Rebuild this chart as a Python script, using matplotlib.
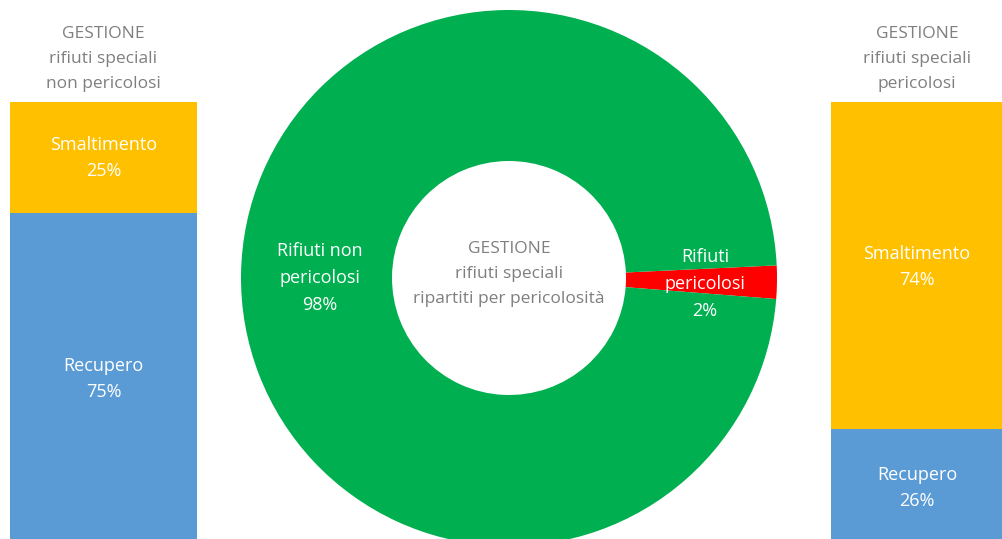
import matplotlib
matplotlib.use("Agg")
import matplotlib.pyplot as plt

plt.rcParams['font.family'] = ['Open Sans', 'DejaVu Sans']

# Data
bar_categories = ["Smaltimento", "Recupero"]
left_values = [25, 75]    # rifiuti speciali non pericolosi
right_values = [74, 26]   # rifiuti speciali pericolosi
donut_labels = ["Rifiuti\npericolosi", "Rifiuti non\npericolosi"]
donut_values = [2, 98]

left_title = "GESTIONE\nrifiuti speciali\nnon pericolosi"
right_title = "GESTIONE\nrifiuti speciali\npericolosi"
center_title = "GESTIONE\nrifiuti speciali\nripartiti per pericolosità"

ORANGE = "#FFC000"
BLUE = "#5B9BD5"
GREEN = "#00B050"
RED = "#FF0000"
GRAY = "#7F7F7F"

W, H = 1003, 539
fig = plt.figure(figsize=(W / 100, H / 100), dpi=100)
ax = fig.add_axes([0, 0, 1, 1])

# Donut
cx, cy, R, r_in = 509, 278, 268, 117
ax.pie(donut_values, colors=[RED, GREEN], startangle=-2.7, counterclock=True,
       center=(cx, cy), radius=R,
       wedgeprops=dict(width=R - r_in, edgecolor='none', linewidth=0))

# Stacked bars (drawn downward from the top edge)
scale = 4.42
top = 102
bar_colors = [ORANGE, BLUE]

def stacked(xc, width, values, label_centers):
    bottom = top
    for cat, v, c, ly in zip(bar_categories, values, bar_colors, label_centers):
        ax.bar(xc, v * scale, width=width, bottom=bottom, color=c, linewidth=0)
        ax.text(xc, ly, f"{cat}\n{v}%", ha='center', va='center', color='white',
                fontsize=13, linespacing=1.62)
        bottom += v * scale

stacked(103.5, 187, left_values, [158, 379])
stacked(917, 172, right_values, [267, 488])

ax.text(103.5, 59, left_title, ha='center', va='center', color=GRAY,
        fontsize=12.5, linespacing=1.75)
ax.text(917, 59, right_title, ha='center', va='center', color=GRAY,
        fontsize=12.5, linespacing=1.75)
ax.text(cx, 274, center_title, ha='center', va='center', color=GRAY,
        fontsize=12.5, linespacing=1.75)

ax.text(320, 278, f"{donut_labels[1]}\n{donut_values[1]}%", ha='center', va='center',
        color='white', fontsize=13, linespacing=1.62)
ax.text(705, 284, f"{donut_labels[0]}\n{donut_values[0]}%", ha='center', va='center',
        color='white', fontsize=13, linespacing=1.62)

ax.set_xlim(0, W)
ax.set_ylim(H, 0)
ax.set_aspect('auto')
ax.axis('off')

fig.savefig("out.png", dpi=100)
